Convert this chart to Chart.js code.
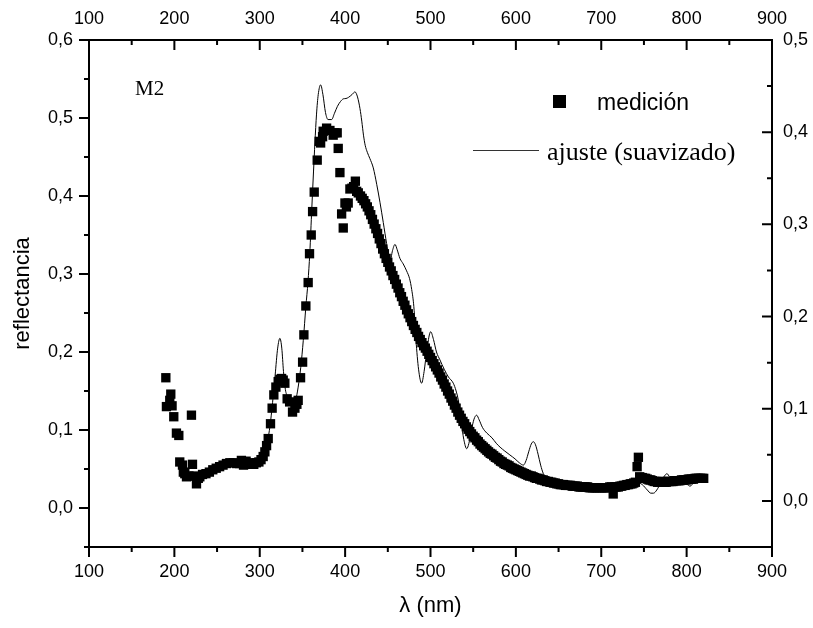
<!DOCTYPE html>
<html><head><meta charset="utf-8">
<script src="https://cdn.jsdelivr.net/npm/chart.js@4.4.1/dist/chart.umd.min.js"></script>
<style>html,body{margin:0;padding:0;background:#fff}#wrap{width:813px;height:628px}</style>
</head><body><div id="wrap"><canvas id="c" width="813" height="628"></canvas></div>
<script>
const measWl = [190.0,190.7,194.6,195.8,197.3,199.3,202.4,205.2,206.3,209.5,210.5,212.2,214.2,217.0,220.0,221.2,223.0,225.9,228.0,229.8,
233,237,241,245,249,253,257,261,265,269,273,276.5,278.5,281,284,287,290,293,296,299,301.5,304,306,308,309.9,312.6,314.5,316.5,318.9,321.6,
323.5,325.6,327.5,329.4,332.1,335,338.4,341.2,343.5,345,347.8,350.2,351.7,354,356.7,358.3,360.3,361.9,363.8,367.3,369.6,371.3,373.6,374.3,
378.3,382.2,386,388,390.7,391.9,393.9,395.9,397.8,399.8,401.5,403.6,405.6,408,410,412,413.5,415.4,418,
420,422,424,426,428,430,432,434,436,438,440,442,444,446,448,450,452,454,456,458,460,462,464,466,468,470,472,474,476,478,480,
482,484,486,488,490,492,494,496,498,500,502,504,506,508,510,512,514,516,518,520,522,524,526,528,530,532,534,536,538,540,
542,544,546,548,550,552,554,556,558,560,562,564,566,568,570,572,574,576,578,580,582,584,586,588,590,592,594,596,598,600,
602,604,606,608,610,612,614,616,618,620,622,624,626,628,630,632,634,636,638,640,642,644,646,648,650,652,654,656,658,660,
662,664,666,668,670,672,674,676,678,680,682,684,686,688,690,692,694,696,698,700,702,704,706,708,710,712,714,716,718,720,
722,724,726,728,730,732,734,736,738,740,742,743.5,745,746,748,750,752,754,756,758,760,762,764,766,768,770,772,774,776,778,780,
782,784,786,788,790,792,794,796,798,800,802,804,806,808,810,812,814,816,818,820];
const measR = [0.167,0.130,0.138,0.146,0.131,0.117,0.096,0.093,0.059,0.055,0.046,0.044,0.040,0.041,0.119,0.056,0.041,0.031,0.038,0.040,
0.043,0.044,0.046,0.049,0.051,0.053,0.055,0.057,0.058,0.058,0.057,0.057,0.061,0.055,0.060,0.056,0.058,0.056,0.058,0.059,0.062,0.066,0.072,0.080,0.089,0.108,0.128,0.145,0.155,0.162,
0.165,0.166,0.164,0.160,0.140,0.136,0.123,0.128,0.133,0.138,0.167,0.187,0.222,0.259,0.289,0.326,0.350,0.380,0.405,0.446,0.470,0.468,0.476,0.483,
0.487,0.484,0.478,0.481,0.481,0.461,0.430,0.377,0.359,0.391,0.386,0.391,0.409,0.410,0.412,0.419,0.406,0.404,0.400,
0.397,0.394,0.390,0.386,0.381,0.376,0.370,0.364,0.358,0.352,0.345,0.339,0.332,0.326,0.320,0.315,0.309,0.304,0.298,0.293,0.287,0.282,0.276,0.271,0.265,0.260,0.254,0.249,0.244,0.239,0.234,
0.229,0.225,0.220,0.216,0.212,0.208,0.205,0.201,0.197,0.193,0.189,0.185,0.181,0.177,0.173,0.168,0.164,0.159,0.155,0.150,0.146,0.141,0.137,0.132,0.128,0.123,0.119,0.115,0.111,0.108,
0.104,0.101,0.098,0.095,0.092,0.090,0.087,0.085,0.082,0.080,0.078,0.076,0.074,0.072,0.070,0.069,0.067,0.065,0.064,0.062,0.060,0.059,0.057,0.056,0.055,0.054,0.052,0.051,0.050,0.049,
0.048,0.047,0.046,0.045,0.044,0.043,0.042,0.041,0.041,0.040,0.039,0.038,0.038,0.037,0.036,0.036,0.035,0.034,0.034,0.033,0.033,0.032,0.032,0.031,0.031,0.030,0.030,0.030,0.029,0.029,
0.029,0.029,0.028,0.028,0.028,0.028,0.027,0.027,0.027,0.027,0.027,0.027,0.026,0.026,0.026,0.026,0.026,0.026,0.026,0.026,0.026,0.026,0.026,0.026,0.027,0.027,0.018,0.027,0.027,0.027,
0.028,0.028,0.029,0.029,0.030,0.030,0.031,0.031,0.032,0.033,0.053,0.065,0.040,0.039,0.039,0.038,0.038,0.037,0.036,0.036,0.035,0.034,0.034,0.033,0.033,0.034,0.034,0.033,0.033,0.034,0.034,
0.034,0.034,0.035,0.035,0.035,0.035,0.036,0.036,0.036,0.036,0.037,0.037,0.037,0.037,0.038,0.038,0.038,0.038,0.038,0.038];

const fitWl = [230,250,270,290,300,305,309,312,315,318,321,323.6,325.8,327.8,330,333,336,339,342,345,348,351,354,356.5,358.6,361,363,364.6,366.5,368.5,
371.3,374,377,380,384.2,387.5,391,394.5,397.8,401,404,408,411.5,414.5,417.4,419.5,421.5,423.5,426,429,433,437,440.8,444.7,448.6,452.5,455.5,458.4,461,464.2,
468,472,475.5,478,480.5,483,486,489.6,492.5,496,500.2,503.5,507,511,516,521,526.7,530,532.6,536,539,542.4,545,548,551,554,557,561,566,572,577,581.5,
587,593,599,604,608.8,612,615,618,620.5,623,626,629,632.2,636,640,650,660,680,700,720,735,742,748,754,758,761.2,765,770,774,777,780,785,790,796,801,804,808,815,822];
const fitR = [0.042,0.051,0.057,0.057,0.060,0.066,0.085,0.105,0.135,0.170,0.205,0.2175,0.205,0.175,0.152,0.142,0.137,0.133,0.138,0.155,0.180,0.215,0.258,0.290,0.3265,0.385,0.432,0.468,0.505,0.530,
0.5425,0.530,0.507,0.498,0.498,0.506,0.515,0.521,0.5245,0.525,0.5265,0.530,0.5335,0.527,0.512,0.496,0.478,0.465,0.456,0.448,0.436,0.415,0.392,0.366,0.339,0.316,0.330,0.338,0.331,0.320,
0.313,0.304,0.294,0.280,0.258,0.215,0.178,0.160,0.175,0.205,0.226,0.216,0.200,0.190,0.178,0.168,0.160,0.150,0.138,0.110,0.088,0.076,0.083,0.100,0.114,0.119,0.113,0.103,0.096,0.090,0.083,0.078,
0.073,0.068,0.063,0.058,0.055,0.061,0.072,0.082,0.085,0.081,0.069,0.055,0.044,0.038,0.034,0.031,0.029,0.027,0.026,0.027,0.030,0.033,0.030,0.023,0.019,0.019,0.023,0.033,0.041,0.044,0.040,0.035,0.033,0.032,0.030,0.028,0.032,0.037,0.038];

const xTicks = [100,200,300,400,500,600,700,800,900];
const xMinorTicks = [150,250,350,450,550,650,750,850];
const yLeftTicks = [0,0.1,0.2,0.3,0.4,0.5,0.6];
const yLeftMinor = [-0.05,0.05,0.15,0.25,0.35,0.45,0.55];
const yRightTicks = [0,0.1,0.2,0.3,0.4,0.5];
const yRightMinor = [-0.05,0.05,0.15,0.25,0.35,0.45];
const seriesNames = ['medición','ajuste (suavizado)'];
const panelLabel = 'M2';
const xTitle = 'λ (nm)';
const yTitle = 'reflectancia';

const fmt = v => v.toFixed(1).replace('.', ',');
const tickFont = {family: '"Liberation Sans", Arial, sans-serif', size: 18};

const framePlugin = {
  id: 'frameTicks',
  afterDraw(chart) {
    const {ctx, chartArea: a, scales} = chart;
    ctx.save();
    ctx.strokeStyle = '#000';
    ctx.lineWidth = 2;
    ctx.beginPath();
    ctx.moveTo(a.left, a.top); ctx.lineTo(a.right, a.top);
    ctx.lineTo(a.right, a.bottom); ctx.lineTo(a.left, a.bottom); ctx.closePath();
    ctx.stroke();
    ctx.beginPath();
    const tick = (list, len, fn) => list.forEach(v => fn(v, len));
    const bx = (v, len) => { const x = scales.x.getPixelForValue(v); ctx.moveTo(x, a.bottom); ctx.lineTo(x, a.bottom + len); };
    const tx = (v, len) => { const x = scales.x2.getPixelForValue(v); ctx.moveTo(x, a.top); ctx.lineTo(x, a.top + len); };
    const ly = (v, len) => { const y = scales.y.getPixelForValue(v); ctx.moveTo(a.left, y); ctx.lineTo(a.left - len, y); };
    const ry = (v, len) => { const y = scales.y2.getPixelForValue(v); ctx.moveTo(a.right, y); ctx.lineTo(a.right - len, y); };
    tick(xTicks, 10, bx); tick(xMinorTicks, 5, bx);
    tick(xTicks, 10, tx); tick(xMinorTicks, 5, tx);
    tick(yLeftTicks, 10, ly); tick(yLeftMinor, 5, ly);
    tick(yRightTicks, 10, ry); tick(yRightMinor, 5, ry);
    ctx.stroke();

    // legend & panel label
    ctx.fillStyle = '#000';
    ctx.fillRect(553, 95, 13, 13);
    ctx.font = '23px "Liberation Sans", Arial, sans-serif';
    ctx.textBaseline = 'alphabetic';
    ctx.fillText(seriesNames[0], 597, 110);
    ctx.strokeStyle = '#333';
    ctx.lineWidth = 1;
    ctx.beginPath(); ctx.moveTo(473, 150.5); ctx.lineTo(539, 150.5); ctx.stroke();
    ctx.font = '26px "Liberation Serif", "Times New Roman", serif';
    ctx.fillText(seriesNames[1], 547, 160);
    ctx.font = '21px "Liberation Serif", "Times New Roman", serif';
    ctx.fillText(panelLabel, 135, 95);
    ctx.restore();
  }
};

const setTicks = vals => scale => { scale.ticks = vals.map(v => ({value: v})); };

new Chart(document.getElementById('c'), {
  type: 'scatter',
  data: {
    datasets: [
      {
        label: seriesNames[0],
        data: measWl.map((x, i) => ({x, y: measR[i]})),
        pointStyle: 'rect', pointRadius: 6.6, pointBorderWidth: 0,
        backgroundColor: '#000', borderColor: '#000', showLine: false,
        xAxisID: 'x', yAxisID: 'y', order: 2
      },
      {
        label: seriesNames[1],
        data: fitWl.map((x, i) => ({x, y: fitR[i]})),
        showLine: true, pointRadius: 0, borderColor: '#000', borderWidth: 1,
        cubicInterpolationMode: 'monotone', fill: false,
        xAxisID: 'x', yAxisID: 'y', order: 1
      }
    ]
  },
  options: {
    responsive: false, animation: false, devicePixelRatio: 1,
    layout: {padding: 0},
    plugins: {legend: {display: false}, tooltip: {enabled: false}},
    scales: {
      x: {
        type: 'linear', position: 'bottom', min: 100, max: 900,
        afterBuildTicks: setTicks(xTicks),
        afterFit: s => { s.height = 81; },
        grid: {display: false, drawTicks: false}, border: {display: false},
        ticks: {color: '#000', font: tickFont, padding: 14, maxRotation: 0, callback: v => String(v)},
        title: {display: true, text: xTitle, color: '#000', font: {family: '"Liberation Sans", Arial, sans-serif', size: 22}, padding: {top: 0, bottom: 9}}
      },
      x2: {
        type: 'linear', position: 'top', min: 100, max: 900, display: true,
        afterBuildTicks: setTicks(xTicks),
        afterFit: s => { s.height = 40; },
        grid: {display: false, drawTicks: false}, border: {display: false},
        ticks: {color: '#000', font: tickFont, padding: 10, maxRotation: 0, callback: v => String(v)}
      },
      y: {
        type: 'linear', position: 'left', min: -0.05, max: 0.6,
        afterBuildTicks: setTicks(yLeftTicks),
        afterFit: s => { s.width = 89; },
        grid: {display: false, drawTicks: false}, border: {display: false},
        ticks: {color: '#000', font: tickFont, padding: 16, callback: v => fmt(v)},
        title: {display: true, text: yTitle, color: '#000', font: {family: '"Liberation Sans", Arial, sans-serif', size: 22}, padding: {top: 10, bottom: 0}}
      },
      y2: {
        type: 'linear', position: 'right', min: -0.05, max: 0.5, display: true,
        afterBuildTicks: setTicks(yRightTicks),
        afterFit: s => { s.width = 41; },
        grid: {display: false, drawTicks: false}, border: {display: false},
        ticks: {color: '#000', font: tickFont, padding: 11, callback: v => fmt(v)}
      }
    }
  },
  plugins: [framePlugin]
});
</script>
</body></html>
